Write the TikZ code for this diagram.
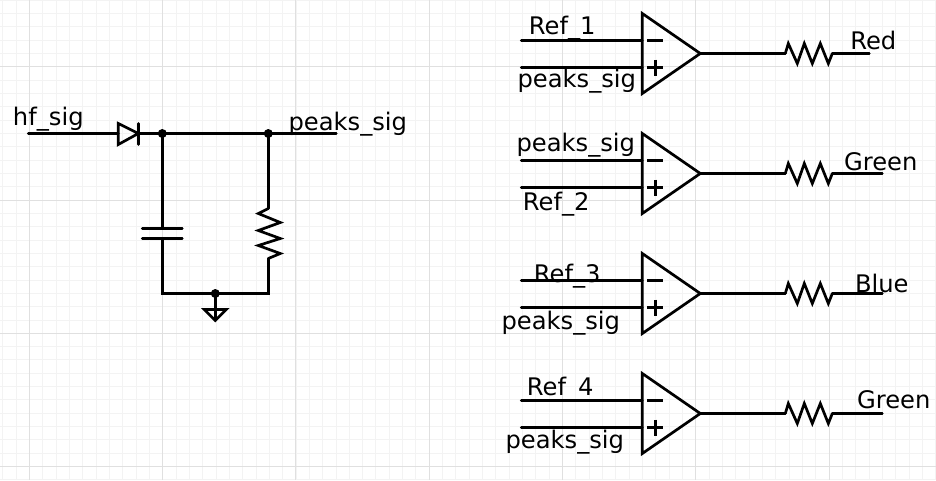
\documentclass[tikz,border=0pt]{standalone}
\usepackage{fontspec}
\setmainfont{DejaVu Sans}
\usetikzlibrary{calc}
\definecolor{gridminor}{HTML}{F3F3F3}
\definecolor{gridmajor}{HTML}{E0E0E0}
\tikzset{
    wire/.style={draw=black,line width=2.7pt,line cap=round,line join=miter},
    dot/.style={shape=circle,fill=black,inner sep=0pt,minimum size=9pt},
    lbl/.style={anchor=base,inner sep=0pt,font=\fontsize{24.2}{24}\selectfont},
    sign/.style={draw=black,line width=2.7pt}
}
\begin{document}
\begin{tikzpicture}[x=1pt,y=-1pt]
        \useasboundingbox (0,0) rectangle (936,480);
        \fill[white] (0,0) rectangle (936,480);
        \foreach \k in {0,...,70} \draw[gridminor,line width=1pt] ({2.67+\k*13.333},0) -- ({2.67+\k*13.333},480);
        \foreach \k in {0,...,36} \draw[gridminor,line width=1pt] (0,{\k*13.333}) -- (936,{\k*13.333});
        \foreach \k in {0,...,6} \draw[gridmajor,line width=1pt] ({29.33+\k*133.33},0) -- ({29.33+\k*133.33},480);
        \foreach \k in {0,...,3} \draw[gridmajor,line width=1pt] (0,{66.67+\k*133.33}) -- (936,{66.67+\k*133.33});

        \begin{scope}[shift={(0.3,0.5)}]
        \coordinate (IN) at (28,133);
        \coordinate (DA) at (118,133);
        \coordinate (DK) at (138,133);
        \node[dot] (J1) at (162,133) {};
        \node[dot] (J2) at (268,133) {};
        \coordinate (OUT) at (336,133);
        \coordinate (CT) at (162,228);
        \coordinate (CB) at (162,238);
        \coordinate (RT) at (268,208);
        \coordinate (RB) at (268,258);
        \coordinate (BL) at (162,293);
        \coordinate (BR) at (268,293);
        \node[dot] (J3) at (215,293) {};
        \coordinate (GT) at (215,320);

        \draw[wire] (IN) -- (DA);
        \draw[wire] (DK) -- (J1.center) -- (J2.center) -- (OUT);
        \draw[wire] (DA |- 0,123) -- (DK) -- (DA |- 0,144) -- cycle;
        \draw[wire] (DK |- 0,123) -- (DK |- 0,144);
        \draw[wire] (J1.center) -- (CT);
        \draw[wire] ($(CT)+(-20,0)$) -- ($(CT)+(20,0)$);
        \draw[wire] ($(CB)+(-20,0)$) -- ($(CB)+(20,0)$);
        \draw[wire] (CB) -- (BL) -- (J3.center) -- (BR) -- (RB);
        \draw[wire] (J2.center) -- (RT);
        \draw[wire] (RT) -- ++(-10,5) -- ++(22,9) -- ++(-22,8) -- ++(22,8) -- ++(-22,7) -- ++(22,8) -- (RB);
        \draw[wire] (J3.center) -- (GT);
        \draw[wire] (204,309) -- (226,309) -- (GT) -- cycle;

        \node[lbl] (HF) at (48,125) {hf\_sig};
        \node[lbl] (PK) at (347.5,130) {peaks\_sig};

        \foreach \n/\y/\xend/\inA/\xA/\yA/\inB/\xB/\yB/\col/\xC/\yC in {
            1/53/869/Ref\_1/562/33.7/peaks\_sig/576.5/87/Red/873/48.7,
            2/173/882/peaks\_sig/575.5/151/Ref\_2/556/210/Green/880.5/169.7,
            3/293/882/Ref\_3/567/281.7/peaks\_sig/560.5/329/Blue/881.5/291.7,
            4/413/882/Ref\_4/560/394.7/peaks\_sig/564.5/448/Green/893.5/407.7}{
            \coordinate (U\n T) at (642,\y-40);
            \coordinate (U\n B) at (642,\y+40);
            \coordinate (U\n O) at (700,\y);
            \coordinate (N\n) at (521,\y-13);
            \coordinate (P\n) at (521,\y+14);
            \coordinate (R\n A) at (785,\y);
            \coordinate (R\n B) at (832,\y);
            \coordinate (E\n) at (\xend,\y);

            \draw[wire] (U\n T) -- (U\n O) -- (U\n B) -- cycle;
            \draw[wire] (N\n) -- (N\n -| U\n T);
            \draw[wire] (P\n) -- (P\n -| U\n T);
            \draw[sign] (647,\y-13) -- (663,\y-13);
            \draw[sign] (647,\y+14) -- (663,\y+14);
            \draw[sign] (655,\y+6) -- (655,\y+22);
            \draw[wire] (U\n O) -- (R\n A);
            \draw[wire] (R\n A) -- ++(3,-10) -- ++(9,20) -- ++(7,-20) -- ++(8,20) -- ++(8,-20) -- ++(8,20) -- (R\n B);
            \draw[wire] (R\n B) -- (E\n);

            \node[lbl] (A\n) at (\xA,\yA) {\inA};
            \node[lbl] (B\n) at (\xB,\yB) {\inB};
            \node[lbl] (C\n) at (\xC,\yC) {\col};
        }
        \end{scope}
    \end{tikzpicture}
\end{document}
